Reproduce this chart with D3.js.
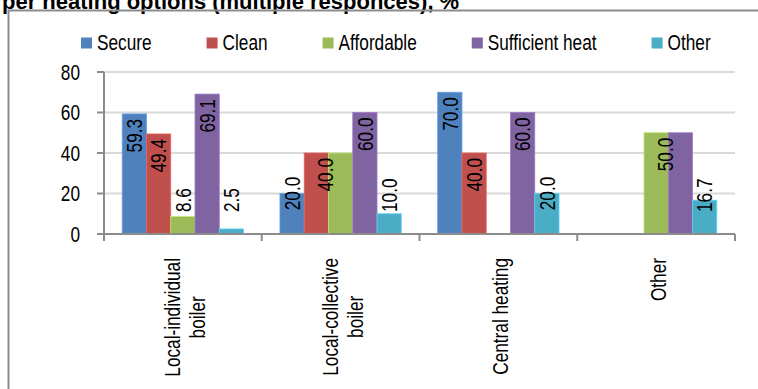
<!DOCTYPE html>
<html>
<head>
<meta charset="utf-8">
<script src="https://cdn.jsdelivr.net/npm/d3@7"></script>
<style>
  html, body { margin: 0; padding: 0; background: #fff; }
  svg { display: block; }
</style>
</head>
<body>
<svg id="chart" width="758" height="389"></svg>
<script>
// ---- data ----
const titleText = "per heating options (multiple responces), %";
const categories = ["Local-individual\nboiler", "Local-collective\nboiler", "Central heating", "Other"];
const seriesNames = ["Secure", "Clean", "Affordable", "Sufficient heat", "Other"];
const secure = [59.3, 20.0, 70.0, null];
const clean = [49.4, 40.0, 40.0, null];
const affordable = [8.6, 40.0, null, 50.0];
const sufficientHeat = [69.1, 60.0, 60.0, 50.0];
const other = [2.5, 10.0, 20.0, 16.7];
const yTicks = [0, 20, 40, 60, 80];
const seriesColors = ["#4F81BD", "#C0504D", "#9BBB59", "#8064A2", "#4BACC6"];

const seriesValues = [secure, clean, affordable, sufficientHeat, other];

// ---- font: prefer a narrow sans; otherwise compress a regular one ----
const probe = document.createElement("canvas").getContext("2d");
probe.font = '21px "Liberation Sans Narrow"';
const wNarrow = probe.measureText("Secure Affordable heating").width;
probe.font = '21px "Liberation Sans"';
const wRegular = probe.measureText("Secure Affordable heating").width;
const hasNarrow = wNarrow / wRegular < 0.9;
const FONT = hasNarrow ? '"Liberation Sans Narrow", "Arial Narrow", sans-serif' : '"Liberation Sans", Arial, sans-serif';
const FS = 22;
const SX = (hasNarrow ? 1 : 0.82) * 21 / FS;
const TITLE_FONT = '"Liberation Sans", Arial, sans-serif';

const svg = d3.select("#chart");
svg.append("rect").attr("width", 758).attr("height", 389).attr("fill", "#fff");

// text helper: horizontal or rotated (-90) text with along-text compression
function addText(parent, x, y, str, opts = {}) {
  const sx = opts.sx != null ? opts.sx : SX;
  const g = parent.append("g")
    .attr("transform", `translate(${x},${y})` + (opts.rotate ? " rotate(-90)" : "") + ` scale(${sx},1)`);
  const t = g.append("text")
    .attr("font-family", opts.family || FONT)
    .attr("font-size", opts.size || FS)
    .attr("font-weight", opts.bold ? "bold" : "normal")
    .attr("fill", "#000")
    .attr("text-anchor", opts.anchor || "start")
    .attr("dy", opts.dy || 0)
    .text(str);
  return t;
}
function textLen(str) {
  const t = svg.append("text").attr("font-family", FONT).attr("font-size", FS).text(str);
  const w = t.node().getComputedTextLength() * SX;
  t.remove();
  return w;
}

// ---- title and outer frame ----
addText(svg, 2, 9, titleText, { bold: true, family: TITLE_FONT, size: 22, sx: 1 });
svg.append("path")
  .attr("d", "M8.5,389 L8.5,10.5 L758,10.5")
  .attr("fill", "none").attr("stroke", "#8c8c8c").attr("stroke-width", 2);

// ---- scales ----
const plot = { left: 104, right: 735, top: 72, bottom: 234 };
const x0 = d3.scaleBand().domain(categories).range([plot.left, plot.right]).padding(0);
const x1 = d3.scaleBand().domain(seriesNames).range([0, x0.bandwidth()])
  .paddingInner(0).paddingOuter(0.75);
const y = d3.scaleLinear().domain([0, 80]).range([plot.bottom, plot.top]);

// ---- gridlines ----
svg.append("g").selectAll("line").data(yTicks.filter(d => d > 0)).join("line")
  .attr("x1", plot.left).attr("x2", plot.right)
  .attr("y1", d => y(d)).attr("y2", d => y(d))
  .attr("stroke", "#d9d9d9").attr("stroke-width", 2);

// ---- bars ----
const barData = [];
seriesValues.forEach((vals, i) => {
  vals.forEach((v, j) => {
    if (v == null) return;
    barData.push({ series: seriesNames[i], si: i, cat: categories[j], ci: j, value: v });
  });
});
svg.append("g").selectAll("rect").data(barData).join("rect")
  .attr("x", d => x0(d.cat) + x1(d.series))
  .attr("y", d => y(d.value))
  .attr("width", x1.bandwidth())
  .attr("height", d => y(0) - y(d.value))
  .attr("fill", d => seriesColors[d.si])
  .attr("stroke", d => d3.color(seriesColors[d.si]).brighter(0.6))
  .attr("stroke-width", 0.8);

// ---- axes ----
const axisColor = "#8c8c8c";
const yAxis = svg.append("g");
yAxis.append("line").attr("x1", plot.left).attr("x2", plot.left)
  .attr("y1", y(80)).attr("y2", y(0)).attr("stroke", axisColor).attr("stroke-width", 2);
yAxis.selectAll("line.tick").data(yTicks).join("line").attr("class", "tick")
  .attr("x1", plot.left - 7).attr("x2", plot.left)
  .attr("y1", d => y(d)).attr("y2", d => y(d))
  .attr("stroke", axisColor).attr("stroke-width", 2);
yTicks.forEach(t => addText(yAxis, 80, y(t), String(t), { anchor: "end", dy: "0.35em" }));

const xAxis = svg.append("g");
xAxis.append("line").attr("x1", plot.left).attr("x2", plot.right)
  .attr("y1", y(0)).attr("y2", y(0)).attr("stroke", axisColor).attr("stroke-width", 2);
const boundaries = categories.map(c => x0(c)).concat([plot.right]);
xAxis.selectAll("line.tick").data(boundaries).join("line").attr("class", "tick")
  .attr("x1", d => d).attr("x2", d => d)
  .attr("y1", y(0)).attr("y2", y(0) + 7)
  .attr("stroke", axisColor).attr("stroke-width", 2);

// category labels: rotated, block ends just below the axis, lines centred
categories.forEach(c => {
  const lines = c.split("\n");
  const maxLen = d3.max(lines, l => textLen(l));
  const cy = y(0) + 24 + maxLen / 2;
  const lineGap = 25;
  const cx = x0(c) + x0.bandwidth() / 2 + 2;
  lines.forEach((l, k) => {
    const off = (k - (lines.length - 1) / 2) * lineGap;
    addText(xAxis, cx + off, cy, l, { rotate: true, anchor: "middle", dy: "0.35em" });
  });
});

// ---- data labels ----
// equal neighbouring values share one label placed near their common edge
const labelG = svg.append("g");
barData.forEach(d => {
  const vals = seriesValues;
  const prev = d.si > 0 ? vals[d.si - 1][d.ci] : null;
  if (prev != null && prev === d.value) return;
  const next = d.si < vals.length - 1 ? vals[d.si + 1][d.ci] : null;
  const str = d.value.toFixed(1);
  const L = textLen(str);
  const bx = x0(d.cat) + x1(d.series);
  const cx = (next != null && next === d.value) ? bx + x1.bandwidth() - 3 : bx + x1.bandwidth() / 2;
  const top = y(d.value);
  const h = y(0) - top;
  let cy;
  if (h >= L + 10) cy = top + 5 + L / 2;
  else cy = Math.min(top, y(0) - L / 2 - 22);
  addText(labelG, cx, cy, str, { rotate: true, anchor: "middle", dy: "0.35em" });
});

// ---- legend ----
const legend = svg.append("g");
let lx = 81;
seriesNames.forEach((s, i) => {
  legend.append("rect").attr("x", lx).attr("y", 37.5).attr("width", 11).attr("height", 11)
    .attr("fill", seriesColors[i]);
  addText(legend, lx + 16, 50, s);
  lx += 16 + textLen(s) + 55;
});
</script>
</body>
</html>
